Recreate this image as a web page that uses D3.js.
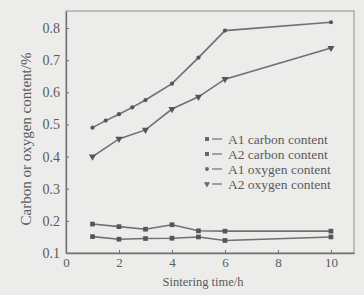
<!DOCTYPE html>
<html>
<head>
<meta charset="utf-8">
<script src="https://cdn.jsdelivr.net/npm/d3@7"></script>
<style>
  body { margin: 0; background: #ececea; }
  svg { display: block; }
  text { font-family: "Liberation Serif", "DejaVu Serif", serif; fill: #5a5a5a; }
</style>
</head>
<body>
<div id="chart"></div>
<script>
// sintering time (h) and measured contents (%)
var timeA = [1, 2, 3, 4, 5, 6, 10];
var timeA1Oxy = [1, 1.5, 2, 2.5, 3, 4, 5, 6, 10];
var a1Carbon = [0.190, 0.182, 0.174, 0.188, 0.169, 0.168, 0.168];
var a2Carbon = [0.151, 0.143, 0.145, 0.146, 0.150, 0.139, 0.150];
var a1Oxygen = [0.490, 0.512, 0.532, 0.553, 0.576, 0.627, 0.708, 0.792, 0.818];
var a2Oxygen = [0.400, 0.455, 0.483, 0.548, 0.586, 0.641, 0.738];
var xTicks = [0, 2, 4, 6, 8, 10];
var yTicks = [0.1, 0.2, 0.3, 0.4, 0.5, 0.6, 0.7, 0.8];

var series = [
  { name: "A1 carbon content", x: timeA, y: a1Carbon, sym: d3.symbolSquare },
  { name: "A2 carbon content", x: timeA, y: a2Carbon, sym: d3.symbolSquare },
  { name: "A1 oxygen content", x: timeA1Oxy, y: a1Oxygen, sym: d3.symbolCircle },
  { name: "A2 oxygen content", x: timeA, y: a2Oxygen, sym: d3.symbolTriangle, flip: true }
];

var W = 364, H = 295;
var margin = { top: 11, right: 10, bottom: 42, left: 66 };
var width = W - margin.left - margin.right,
    height = H - margin.top - margin.bottom;

var ink = "#707070";

var svg = d3.select("#chart").append("svg")
    .attr("width", W)
    .attr("height", H);

var g = svg.append("g")
    .attr("transform", "translate(" + margin.left + "," + margin.top + ")");

var x = d3.scaleLinear().domain([0, 10.87]).range([0, width]);
var y = d3.scaleLinear().domain([0.1, 0.853]).range([height, 0]);

// frame
g.append("rect")
    .attr("width", width).attr("height", height)
    .attr("fill", "none").attr("stroke", "#909090").attr("stroke-width", 1);

// axes with inward ticks
var xAxis = d3.axisBottom(x).tickValues(xTicks).tickSizeInner(-3).tickSizeOuter(0)
    .tickPadding(5).tickFormat(d3.format("d"));
var yAxis = d3.axisLeft(y).tickValues(yTicks).tickSizeInner(-3).tickSizeOuter(0)
    .tickPadding(6).tickFormat(d3.format(".1f"));

var gx = g.append("g").attr("transform", "translate(0," + height + ")").call(xAxis);
var gy = g.append("g").call(yAxis);
[gx, gy].forEach(function(a) {
  a.select(".domain").attr("stroke", ink).attr("stroke-width", 1.3);
  a.selectAll(".tick line").attr("stroke", ink);
  a.selectAll(".tick text").style("font-size", "14px")
    .style("font-family", "Liberation Serif, serif").attr("fill", "#5a5a5a");
});
gx.selectAll(".tick text").style("font-size", "13px");
gx.selectAll(".tick").filter(function(d) { return d === 0; }).select("line").remove();

// lines + markers
var line = d3.line()
    .x(function(d) { return x(d[0]); })
    .y(function(d) { return y(d[1]); });

series.forEach(function(s) {
  var pts = s.x.map(function(v, i) { return [v, s.y[i]]; });
  g.append("path").datum(pts)
      .attr("d", line)
      .attr("fill", "none").attr("stroke", ink).attr("stroke-width", 1.6);
  g.selectAll(null).data(pts).enter().append("path")
      .attr("d", d3.symbol().type(s.sym).size(s.sym === d3.symbolCircle ? 14 : 22))
      .attr("transform", function(d) {
        return "translate(" + x(d[0]) + "," + y(d[1]) + ")" + (s.flip ? " rotate(180)" : "");
      })
      .attr("fill", "#555");
});

// legend
var legend = g.append("g").attr("transform", "translate(141,128)");
series.forEach(function(s, i) {
  var row = legend.append("g").attr("transform", "translate(0," + (i * 15) + ")");
  row.append("path")
      .attr("d", d3.symbol().type(s.sym).size(s.sym === d3.symbolCircle ? 12 : 16))
      .attr("transform", s.flip ? "rotate(180)" : null)
      .attr("fill", "#666");
  row.append("line").attr("x1", 5).attr("x2", 15).attr("y1", 0).attr("y2", 0)
      .attr("stroke", ink).attr("stroke-width", 1.2);
  row.append("text").attr("x", 21).attr("y", 4.5)
      .style("font-size", "13.5px").text(s.name);
});

// axis titles
svg.append("text")
    .attr("x", 203).attr("y", 286)
    .attr("text-anchor", "middle").style("font-size", "12.5px")
    .text("Sintering time/h");

svg.append("text")
    .attr("transform", "translate(31,139) rotate(-90)")
    .attr("text-anchor", "middle").style("font-size", "15px")
    .text("Carbon or oxygen content/%");
</script>
</body>
</html>
